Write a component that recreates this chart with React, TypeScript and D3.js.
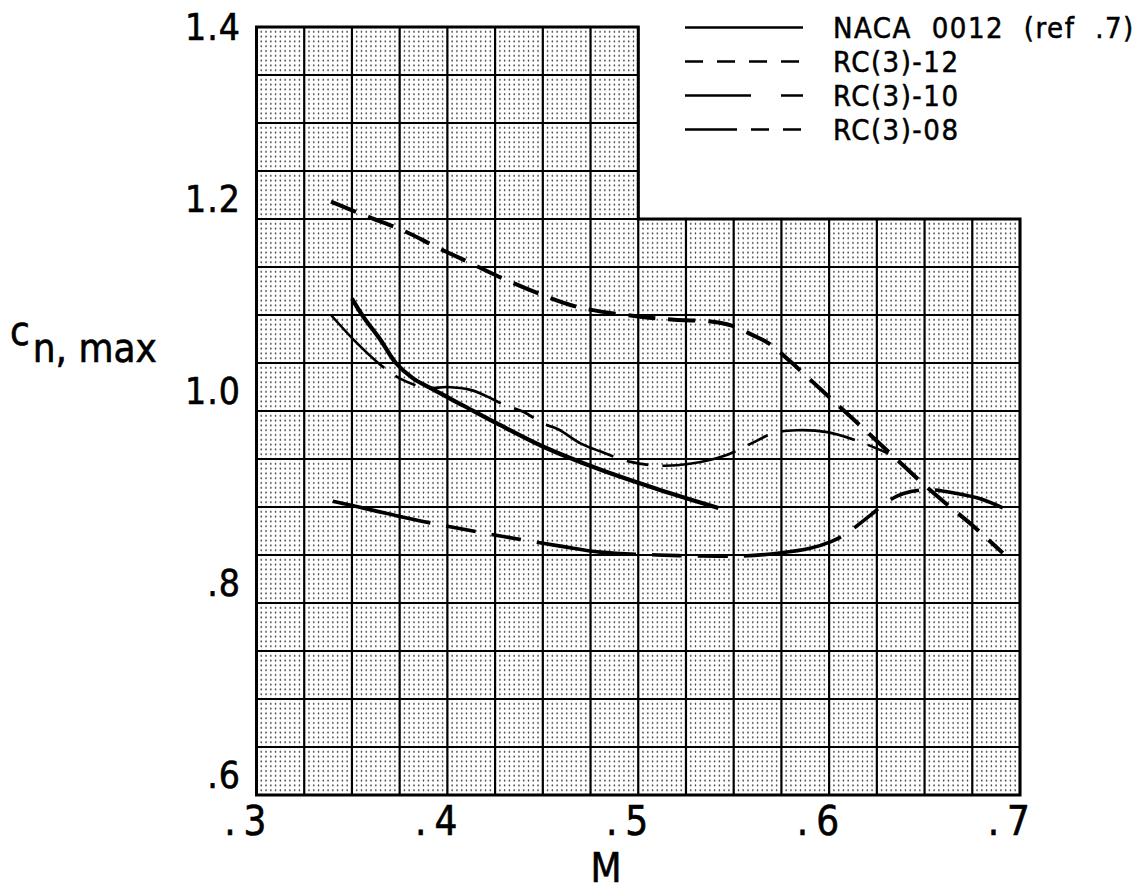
import React from 'react';
import * as d3 from 'd3';

// values (M vs c_n,max)
const nacaM = [0.350, 0.356, 0.365, 0.373, 0.382, 0.391, 0.408, 0.426, 0.450, 0.480, 0.511, 0.542];
const nacaC = [1.117, 1.098, 1.074, 1.050, 1.034, 1.024, 1.006, 0.987, 0.963, 0.939, 0.918, 0.899];

const rc12M = [0.339, 0.359, 0.378, 0.394, 0.408, 0.428, 0.447, 0.469, 0.502, 0.519, 0.539, 0.549, 0.560, 0.568, 0.580, 0.597, 0.614, 0.633, 0.651, 0.661, 0.675, 0.691];
const rc12C = [1.218, 1.202, 1.187, 1.171, 1.158, 1.139, 1.123, 1.108, 1.098, 1.095, 1.093, 1.089, 1.079, 1.071, 1.051, 1.020, 0.989, 0.954, 0.921, 0.904, 0.881, 0.852];

const rc10M = [0.339, 0.352, 0.365, 0.375, 0.389, 0.400, 0.412, 0.421, 0.429, 0.440, 0.450, 0.458, 0.470, 0.480, 0.496, 0.512, 0.527, 0.546, 0.559, 0.571, 0.583, 0.599, 0.616, 0.633];
const rc10C = [1.100, 1.072, 1.048, 1.034, 1.024, 1.025, 1.022, 1.015, 1.007, 0.999, 0.987, 0.981, 0.966, 0.958, 0.947, 0.943, 0.945, 0.954, 0.966, 0.977, 0.980, 0.978, 0.968, 0.954];

const rc08M = [0.340, 0.360, 0.380, 0.400, 0.430, 0.460, 0.480, 0.510, 0.530, 0.555, 0.574, 0.590, 0.601, 0.608, 0.622, 0.630, 0.639, 0.652, 0.667, 0.680, 0.691];
const rc08C = [0.906, 0.897, 0.888, 0.880, 0.869, 0.859, 0.853, 0.850, 0.849, 0.849, 0.852, 0.857, 0.864, 0.871, 0.892, 0.905, 0.914, 0.918, 0.914, 0.908, 0.899];

const xTicks = [0.3, 0.4, 0.5, 0.6, 0.7];
const xTickLabels = ['3', '4', '5', '6', '7'];
const yTicks = [1.4, 1.2, 1.0, 0.8, 0.6];
const yTickLabels = ['1.4', '1.2', '1.0', '.8', '.6'];

const legendNames = ['NACA 0012 (ref .7)', 'RC(3)-12', 'RC(3)-10', 'RC(3)-08'];

const FONT = '"DejaVu Sans Condensed", "Liberation Sans Narrow", Arial, sans-serif';

export default function App() {
  const W = 1147;
  const H = 896;
  const x = d3.scaleLinear().domain([0.3, 0.7]).range([256.5, 1020]);
  const y = d3.scaleLinear().domain([0.6, 1.4]).range([795, 27]);

  // grid is stepped: above 1.2 it only covers M .3 - .5
  const xMinor = d3.range(0, 161).map(i => 0.3 + i * 0.0025);
  const yMinor = d3.range(0, 161).map(i => 0.6 + i * 0.005);
  const topFor = (m: number) => (m <= 0.5001 ? 1.4 : 1.2);
  const rightFor = (c: number) => (c <= 1.2001 ? 0.7 : 0.5);
  const isMajor = (i: number) => i % 10 === 0;

  const line = d3.line<[number, number]>()
    .x(d => x(d[0]))
    .y(d => y(d[1]))
    .curve(d3.curveCatmullRom.alpha(0.5));

  const zip = (a: number[], b: number[]) => a.map((v, i) => [v, b[i]] as [number, number]);

  const series = [
    { M: nacaM, C: nacaC, dash: undefined, w: 4.2, legendDash: undefined },
    { M: rc12M, C: rc12C, dash: '27 13', w: 4, legendDash: '18 14' },
    { M: rc10M, C: rc10C, dash: '75 14 22 14', w: 2.6, legendDash: '66 30 22 100' },
    { M: rc08M, C: rc08C, dash: '100 16 30 16 30 16', w: 3.6, legendDash: '52 14 18 14 18 100' },
  ];

  const xPer = x(0.3025) - x(0.3);
  const yPer = y(0.6) - y(0.605);

  return (
    <svg width={W} height={H} style={{ position: 'absolute', left: 0, top: 0, background: '#fff' }}>
      <rect width={W} height={H} fill="#fff" />
      {/* minor grid, broken lines like the scanned graph paper */}
      <g stroke="#3a3a3a" strokeWidth={0.7}>
        {xMinor.map((m, i) => isMajor(i) ? null : (
          <line key={'vx' + i} x1={x(m)} x2={x(m)} y1={y(0.6)} y2={y(topFor(m))}
            strokeDasharray={`${yPer * 0.5} ${yPer * 0.5}`} strokeDashoffset={yPer * 0.25} />
        ))}
        {yMinor.map((c, i) => isMajor(i) ? null : (
          <line key={'hy' + i} x1={x(0.3)} x2={x(rightFor(c))} y1={y(c)} y2={y(c)}
            strokeDasharray={`${xPer * 0.36} ${xPer * 0.64}`} strokeDashoffset={xPer * 0.18} />
        ))}
      </g>
      {/* major grid */}
      <g stroke="#000" strokeWidth={2.2}>
        {xMinor.map((m, i) => isMajor(i) ? (
          <line key={'Vx' + i} x1={x(m)} x2={x(m)} y1={y(0.6)} y2={y(topFor(m))} />
        ) : null)}
        {yMinor.map((c, i) => isMajor(i) ? (
          <line key={'Hy' + i} x1={x(0.3)} x2={x(rightFor(c))} y1={y(c)} y2={y(c)} />
        ) : null)}
      </g>
      {/* frame outline */}
      <path
        d={`M${x(0.3)},${y(0.6)} L${x(0.3)},${y(1.4)} L${x(0.5)},${y(1.4)} L${x(0.5)},${y(1.2)} L${x(0.7)},${y(1.2)} L${x(0.7)},${y(0.6)} Z`}
        fill="none" stroke="#000" strokeWidth={3}
      />

      {/* curves */}
      {series.map((s, i) => (
        <path key={'s' + i} d={line(zip(s.M, s.C)) || ''} fill="none" stroke="#000"
          strokeWidth={s.w} strokeDasharray={s.dash} strokeLinecap="butt" />
      ))}

      {/* axis tick labels */}
      <g fontFamily={FONT} fontSize={40} fill="#000" stroke="#000" strokeWidth={0.6}>
        {xTicks.map((v, i) => (
          <text key={'xt' + i} x={x(v) + 10} y={835} textAnchor="end">
            .<tspan dx={8}>{xTickLabels[i]}</tspan>
          </text>
        ))}
      </g>
      <g fontFamily={FONT} fontSize={37} fill="#000" stroke="#000" strokeWidth={0.6}>
        {yTicks.map((v, i) => (
          <text key={'yt' + i} x={241} y={i === 0 ? 40 : y(v) - 7} textAnchor="end" letterSpacing={1}>{yTickLabels[i]}</text>
        ))}
      </g>

      {/* axis titles */}
      <text x={606} y={882} textAnchor="middle" fontFamily={FONT} fontSize={40} stroke="#000" strokeWidth={0.6}>M</text>
      <text fontFamily={FONT} fontSize={40} x={10} y={345} stroke="#000" strokeWidth={0.6}>
        c<tspan dx={3} dy={17}>n, max</tspan>
      </text>

      {/* legend */}
      <g fontFamily={FONT} fontSize={29}>
        {legendNames.map((name, i) => {
          const base = 38 + i * 34;
          return (
            <g key={'lg' + i}>
              <line x1={685} x2={803} y1={base - 10.5} y2={base - 10.5} stroke="#000" strokeWidth={2.4}
                strokeDasharray={series[i].legendDash} />
              <text x={833} y={base} wordSpacing={10} letterSpacing={1.5} stroke="#000" strokeWidth={0.5}>{name}</text>
            </g>
          );
        })}
      </g>
    </svg>
  );
}
